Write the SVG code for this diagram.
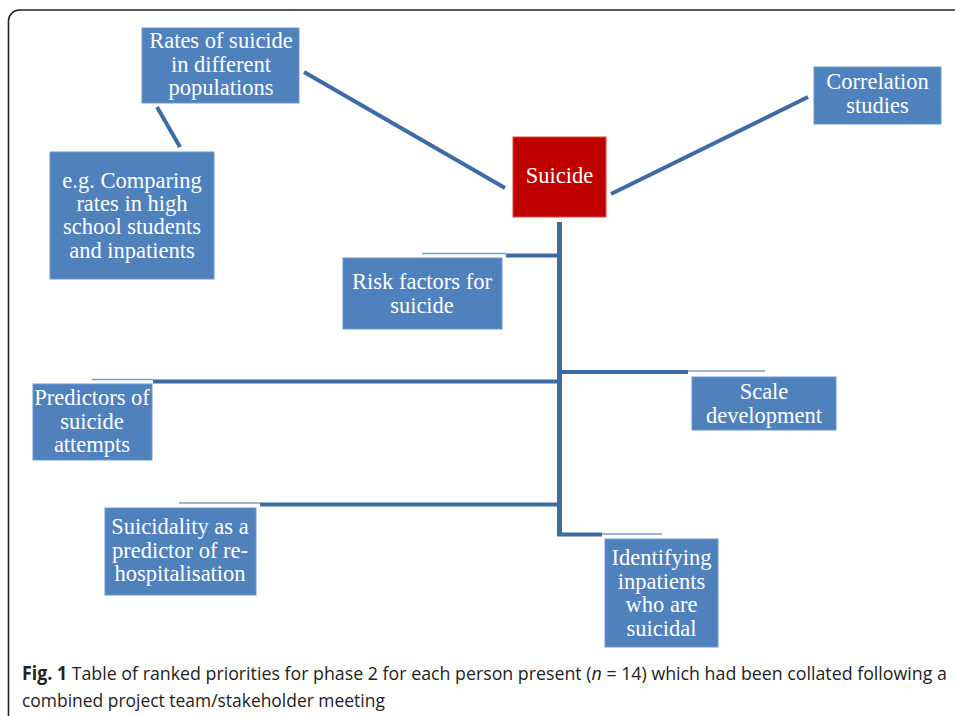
<svg xmlns="http://www.w3.org/2000/svg" width="955" height="716" viewBox="0 0 955 716">
<style>
.box{fill:#4F81BD;stroke:#6C95C9;stroke-width:1}
.red{fill:#C00000;stroke:#D84B4B;stroke-width:1}
.t{font-family:"Liberation Serif","Times New Roman",serif;font-size:22.5px;fill:#FFFFFF;text-anchor:middle}
.thick{stroke:#3D6BA3;stroke-width:4;fill:none}
.trunk{stroke:#3D6BA3;stroke-width:5;fill:none}
.thin{stroke:#7E9CC6;stroke-width:1.6;fill:none}
.cap{font-family:"Open Sans","Liberation Sans",sans-serif;font-size:19px;fill:#222}
</style>
<rect width="955" height="716" fill="#FFFFFF"/>
<path d="M8.5,716 V21 a11,11 0 0 1 11,-11 H956" fill="none" stroke="#222" stroke-width="1.6"/>
<g id="connectors">
<line class="thick" x1="304" y1="72" x2="505" y2="188"/>
<line class="thick" x1="157" y1="107" x2="180" y2="147"/>
<line class="thick" x1="611" y1="194" x2="808" y2="97"/>
<path class="trunk" d="M559.5,222 V536"/>
<line class="thin" x1="422" y1="253.5" x2="506" y2="253.5"/>
<line class="thick" x1="506" y1="255.5" x2="559" y2="255.5"/>
<line class="thin" x1="92" y1="379.5" x2="153" y2="379.5"/>
<line class="thick" x1="153" y1="381.5" x2="559" y2="381.5"/>
<line class="thick" x1="559" y1="372" x2="688" y2="372"/>
<line class="thin" x1="688" y1="371" x2="765" y2="371"/>
<line class="thin" x1="179" y1="503" x2="260" y2="503"/>
<line class="thick" x1="260" y1="504.5" x2="559" y2="504.5"/>
<line class="thick" x1="557" y1="534.5" x2="602" y2="534.5"/>
<line class="thin" x1="602" y1="534" x2="662" y2="534"/>
</g>
<g id="rates">
<rect class="box" x="142" y="28" width="157" height="75"/>
<text class="t" x="221" y="48">Rates of suicide</text>
<text class="t" x="221" y="72">in different</text>
<text class="t" x="221" y="95">populations</text>
</g>
<g id="example">
<rect class="box" x="50" y="152" width="164" height="127"/>
<text class="t" x="132" y="188">e.g. Comparing</text>
<text class="t" x="132" y="211">rates in high</text>
<text class="t" x="132" y="234">school students</text>
<text class="t" x="132" y="258">and inpatients</text>
</g>
<g id="suicide">
<rect class="red" x="513" y="137" width="93" height="80"/>
<text class="t" x="559.5" y="183">Suicide</text>
</g>
<g id="correlation">
<rect class="box" x="814" y="67" width="127" height="57"/>
<text class="t" x="877.5" y="89">Correlation</text>
<text class="t" x="877.5" y="113">studies</text>
</g>
<g id="risk">
<rect class="box" x="343" y="258" width="159" height="71"/>
<text class="t" x="422" y="289">Risk factors for</text>
<text class="t" x="422" y="313">suicide</text>
</g>
<g id="predictors">
<rect class="box" x="33" y="384" width="119" height="76"/>
<text class="t" x="92" y="405">Predictors of</text>
<text class="t" x="92" y="429">suicide</text>
<text class="t" x="92" y="452">attempts</text>
</g>
<g id="scale">
<rect class="box" x="692" y="377" width="144" height="53"/>
<text class="t" x="764" y="399">Scale</text>
<text class="t" x="764" y="423">development</text>
</g>
<g id="suicidality">
<rect class="box" x="105" y="508" width="151" height="87"/>
<text class="t" x="180" y="534">Suicidality as a</text>
<text class="t" x="180" y="558">predictor of re-</text>
<text class="t" x="180" y="581">hospitalisation</text>
</g>
<g id="identifying">
<rect class="box" x="605" y="539" width="113" height="108"/>
<text class="t" x="661.5" y="565">Identifying</text>
<text class="t" x="661.5" y="589">inpatients</text>
<text class="t" x="661.5" y="612">who are</text>
<text class="t" x="661.5" y="636">suicidal</text>
</g>
<g id="caption" transform="translate(22,0) scale(0.84,1)">
<text class="cap" x="0" y="680" textLength="1101" lengthAdjust="spacingAndGlyphs"><tspan font-weight="bold">Fig. 1</tspan> Table of ranked priorities for phase 2 for each person present (<tspan font-style="italic">n</tspan> = 14) which had been collated following a</text>
<text class="cap" x="0" y="707" textLength="432" lengthAdjust="spacingAndGlyphs">combined project team/stakeholder meeting</text>
</g>
</svg>
